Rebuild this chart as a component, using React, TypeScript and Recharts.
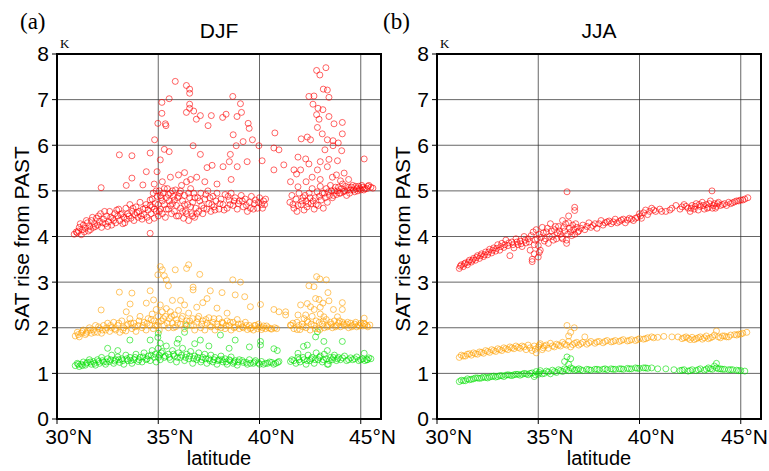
import React from 'react'
import {
  ScatterChart,
  Scatter,
  XAxis,
  YAxis,
  CartesianGrid,
} from 'recharts'

type P = [number, number]

const latTicks = [30, 35, 40, 45]
const satTicks = [0, 1, 2, 3, 4, 5, 6, 7, 8]

// DJF, red
const djfRed: P[] = [
  [30.85,4.05],[30.95,4.1],[31.05,4.12],[31.1,4.2],[31.2,4.04],[31.25,4.15],[31.3,4.25],[31.4,4.18],[31.5,4.3],[31.55,4.12],
  [31.6,4.22],[31.7,4.35],[31.8,4.2],[31.85,4.28],[31.95,4.4],[32.0,4.25],[32.1,4.33],[32.15,4.5],[32.2,4.2],[32.3,4.38],
  [32.4,4.28],[32.45,4.45],[32.55,4.32],[32.6,4.55],[32.7,4.25],[32.75,4.4],[32.85,4.5],[32.9,4.3],[33.0,4.45],[33.05,4.6],
  [33.1,4.35],[33.2,4.5],[33.25,4.28],[33.3,4.42],[33.4,4.62],[33.45,4.38],[33.5,4.5],[33.6,4.7],[33.65,4.4],[33.7,4.55],
  [33.8,4.35],[33.85,4.48],[33.9,4.65],[34.0,4.42],[34.05,4.55],[34.1,4.75],[34.2,4.38],[34.25,4.6],[34.3,4.48],[34.4,4.7],
  [34.45,4.42],[34.5,4.58],[34.6,4.8],[34.65,4.5],[34.7,4.65],[34.75,4.95],[34.8,4.4],[34.85,4.72],[34.9,4.55],[34.95,4.88],
  [35.0,4.45],[35.0,4.7],[35.05,5.0],[35.1,4.6],[35.15,4.85],[35.2,4.5],[35.25,4.95],[35.3,4.7],[35.35,4.42],[35.4,4.85],
  [35.45,5.05],[35.5,4.6],[35.55,4.78],[35.6,4.95],[35.65,4.5],[35.7,4.72],[35.75,4.88],[35.8,4.55],[35.85,5.02],[35.9,4.68],
  [35.95,4.85],[36.0,4.45],[36.05,4.95],[36.1,4.62],[36.15,5.12],[36.2,4.78],[36.25,4.4],[36.3,4.9],[36.35,4.55],[36.4,5.2],
  [36.45,4.7],[36.5,4.35],[36.55,4.85],[36.6,5.05],[36.65,4.5],[36.7,4.75],[36.75,4.95],[36.8,4.42],[36.85,4.62],[36.95,4.85],
  [37.0,4.55],[37.1,4.95],[37.15,4.68],[37.2,4.5],[37.3,4.82],[37.4,4.6],[37.45,5.0],[37.5,4.72],[37.6,4.55],[37.7,4.88],
  [37.75,4.65],[37.85,4.78],[37.9,4.95],[38.0,4.6],[38.1,4.82],[38.2,4.7],[38.3,4.92],[38.4,4.62],[38.5,4.8],[38.6,4.95],
  [38.7,4.68],[38.8,4.85],[38.9,4.6],[39.0,4.78],[39.1,4.9],[39.2,4.65],[39.3,4.82],[39.4,4.55],[39.5,4.75],[39.6,4.88],
  [39.7,4.6],[39.8,4.8],[39.9,4.62],[40.0,4.85],[40.1,4.7],[40.2,4.78],[40.3,4.82],[41.5,4.75],[41.6,4.9],[41.7,4.62],
  [41.8,4.82],[41.85,4.55],[41.95,4.95],[42.05,4.7],[42.15,4.85],[42.2,4.58],[42.3,4.78],[42.35,4.65],[42.45,4.95],[42.55,4.72],
  [42.6,5.05],[42.7,4.6],[42.75,4.85],[42.85,4.98],[42.9,4.68],[43.0,5.1],[43.05,4.8],[43.15,4.62],[43.2,4.95],[43.3,5.05],
  [43.35,4.75],[43.45,4.9],[43.5,5.12],[43.6,4.85],[43.7,5.0],[43.8,4.92],[43.9,5.08],[44.0,4.95],[44.1,5.15],[44.2,5.0],
  [44.3,4.9],[44.4,5.08],[44.5,5.02],[44.6,5.12],[44.7,4.98],[44.8,5.05],[44.9,5.1],[45.0,5.02],[45.1,5.08],[45.2,5.05],
  [45.35,5.1],[45.5,5.08],
  [31.0,4.08],[31.15,4.28],[31.35,4.1],[31.45,4.35],[31.65,4.15],[31.75,4.42],[31.9,4.22],[32.05,4.45],[32.25,4.3],[32.35,4.55],
  [32.5,4.22],[32.65,4.42],[32.8,4.35],[32.95,4.58],[33.15,4.48],[33.35,4.3],[33.55,4.45],[33.75,4.62],[33.95,4.52],[34.15,4.45],
  [34.35,4.62],[34.55,4.35],[34.6,4.68],[34.7,4.82],[34.8,4.6],[34.9,5.0],[35.05,4.55],[35.1,4.9],[35.2,4.78],[35.3,5.05],
  [35.4,4.6],[35.5,4.92],[35.6,4.68],[35.7,5.0],[35.8,4.8],[35.9,4.45],[36.0,4.88],[36.1,5.0],[36.2,4.55],[36.3,4.7],
  [36.4,4.5],[36.5,4.95],[36.6,4.65],[36.7,4.45],[36.8,4.85],[36.9,4.5],[37.05,4.78],[37.25,4.62],[37.35,4.92],[37.55,4.85],
  [37.65,4.7],[37.8,4.58],[38.05,4.72],[38.25,4.58],[38.45,4.88],[38.55,4.7],[38.75,4.78],[38.95,4.72],[39.15,4.78],[39.35,4.68],
  [39.55,4.62],[39.75,4.72],[39.95,4.75],[40.15,4.62],[40.25,4.7],[41.65,4.7],[41.9,4.68],[42.1,4.78],[42.25,4.9],[42.4,4.72],
  [42.5,4.85],[42.65,4.78],[42.8,4.7],[42.95,4.88],[43.1,4.95],[43.25,4.85],[43.4,4.98],[43.55,5.0],[43.65,4.9],[43.75,5.08],
  [43.85,5.0],[43.95,4.95],[44.05,5.05],[44.15,4.98],[44.25,5.1],[44.35,5.02],[44.45,4.95],[44.55,5.08],[44.65,5.02],[44.75,5.1],
  [44.85,5.0],[44.95,5.05],[45.05,5.12],[45.15,5.02],[45.3,5.05],[45.4,5.12],[45.6,5.06],
  // scattered above the band
  [35.84,7.4],[36.39,7.31],[36.55,7.23],[36.55,7.14],[35.54,7.02],[35.18,6.94],[38.68,7.07],[39.06,6.91],[36.55,6.9],[36.55,6.81],
  [36.39,6.72],[36.75,6.75],[37.08,6.65],[36.88,6.57],[37.62,6.65],[38.18,6.61],[38.35,6.68],[38.89,6.63],[39.11,6.72],[37.46,6.43],
  [39.44,6.48],[39.49,6.37],[35.18,6.7],[34.98,6.48],[35.35,6.47],[35.38,6.43],[34.82,6.12],[38.7,6.23],[39.19,6.08],[39.65,6.12],
  [38.85,5.99],[39.97,5.99],[40.76,6.27],[40.71,5.94],[40.96,5.9],[36.72,5.99],[35.3,5.91],[35.54,5.86],[34.6,5.83],[33.08,5.79],
  [33.7,5.77],[37.08,5.8],[38.56,5.8],[38.51,5.64],[39.39,5.64],[40.13,5.66],[38.2,5.53],[38.9,5.53],[37.41,5.51],[37.66,5.56],
  [40.71,5.46],[41.2,5.57],[35.1,5.68],[34.94,5.42],[34.41,5.42],[33.7,5.28],[33.42,5.12],[32.18,5.07],[34.24,5.13],[34.6,4.07],
  [35.6,5.3],[36.0,5.35],[36.3,5.4],[36.6,5.25],[37.3,5.2],[37.9,5.15],[38.6,5.25],[35.2,5.2],[34.8,5.15],[36.9,5.3],
  [42.82,7.64],[43.28,7.7],[42.98,7.54],[43.15,7.23],[43.35,7.21],[42.44,7.07],[42.69,7.08],[43.43,7.05],[42.64,6.9],[42.89,6.81],
  [43.13,6.78],[42.82,6.67],[42.94,6.57],[43.43,6.63],[43.68,6.47],[44.09,6.5],[42.86,6.39],[43.1,6.25],[44.09,6.25],[42.06,6.14],
  [42.36,6.18],[42.52,6.12],[43.35,6.12],[43.63,6.1],[43.89,6.05],[43.63,5.99],[43.23,5.9],[44.06,5.88],[41.9,5.74],[42.28,5.7],
  [42.44,5.59],[43.0,5.64],[43.43,5.69],[43.85,5.66],[45.17,5.7],[41.7,5.46],[42.03,5.46],[41.83,5.37],[42.86,5.46],[43.35,5.53],
  [44.18,5.39],[41.53,5.2],[41.9,5.09],[42.6,5.3],[43.0,5.25],[43.6,5.3],[44.0,5.22],[42.3,5.2],[43.8,5.35],[44.4,5.25],
]

// DJF, orange
const djfOrange: P[] = [
  [30.9,1.82],[31.0,1.9],[31.1,1.8],[31.2,1.88],[31.3,1.95],[31.4,1.85],[31.5,1.92],[31.6,2.0],[31.7,1.88],[31.8,1.95],
  [31.9,2.05],[32.0,1.9],[32.1,1.98],[32.2,1.88],[32.3,2.05],[32.4,1.95],[32.5,2.1],[32.6,1.92],[32.7,2.0],[32.8,2.12],
  [32.9,1.95],[33.0,2.05],[33.1,1.9],[33.2,2.15],[33.3,2.0],[33.4,1.93],[33.5,2.08],[33.6,2.2],[33.7,1.98],[33.8,2.1],
  [33.9,1.92],[34.0,2.05],[34.1,2.25],[34.2,2.0],[34.3,2.12],[34.4,1.95],[34.5,2.2],[34.6,2.05],[34.7,2.3],[34.75,1.98],
  [34.8,2.15],[34.9,2.4],[34.95,2.05],[35.0,2.25],[35.05,1.95],[35.1,2.5],[35.15,2.15],[35.2,2.35],[35.3,2.05],[35.35,2.25],
  [35.4,2.42],[35.5,2.0],[35.55,2.2],[35.6,2.35],[35.7,2.1],[35.8,2.28],[35.85,2.02],[35.9,2.18],[36.0,2.38],[36.1,2.08],
  [36.2,2.25],[36.3,1.98],[36.4,2.15],[36.5,2.32],[36.6,2.05],[36.7,2.2],[36.8,1.95],[36.9,2.12],[37.0,2.25],[37.1,2.0],
  [37.2,2.15],[37.3,1.95],[37.4,2.1],[37.5,2.22],[37.6,2.02],[37.7,2.12],[37.8,1.95],[37.9,2.08],[38.0,2.2],[38.1,2.0],
  [38.2,2.1],[38.3,1.98],[38.4,2.15],[38.5,2.05],[38.6,1.95],[38.7,2.12],[38.8,2.02],[38.9,2.18],[39.0,1.98],[39.1,2.08],
  [39.2,2.0],[39.3,2.12],[39.4,1.96],[39.5,2.05],[39.6,2.0],[39.7,1.95],[39.8,2.05],[39.9,1.98],[40.0,2.02],[40.1,1.96],
  [40.2,2.04],[40.3,1.98],[40.45,2.0],[40.6,1.97],[40.75,2.0],[41.55,2.05],[41.7,1.98],[41.85,2.12],[42.0,1.96],[42.1,2.08],
  [42.2,2.2],[42.3,2.0],[42.4,2.12],[42.5,1.95],[42.6,2.25],[42.7,2.05],[42.8,2.15],[42.9,1.98],[43.0,2.3],[43.1,2.08],
  [43.2,2.0],[43.3,2.18],[43.4,2.05],[43.5,2.12],[43.6,2.0],[43.7,2.15],[43.8,2.05],[43.9,2.1],[44.0,2.02],[44.1,2.12],
  [44.2,2.05],[44.3,2.08],[44.4,2.0],[44.5,2.1],[44.6,2.05],[44.7,2.08],[44.8,2.02],[44.9,2.06],[45.0,2.1],[45.1,2.04],
  [45.2,2.08],[45.3,2.05],[45.45,2.06],
  [31.05,1.85],[31.25,1.92],[31.45,1.88],[31.65,1.95],[31.85,1.9],[32.05,2.02],[32.25,1.95],[32.45,2.0],[32.65,2.05],[32.85,1.98],
  [33.05,2.1],[33.25,1.95],[33.45,2.05],[33.65,2.1],[33.85,2.02],[34.05,2.15],[34.25,2.05],[34.45,2.1],[34.65,2.18],[34.85,2.05],
  [35.0,2.12],[35.25,2.2],[35.45,2.1],[35.65,2.25],[35.75,2.0],[35.95,2.1],[36.15,2.2],[36.35,2.08],[36.55,2.15],[36.75,2.05],
  [36.95,2.2],[37.15,2.08],[37.35,2.18],[37.55,2.05],[37.75,2.2],[37.95,2.02],[38.15,2.12],[38.35,2.05],[38.55,2.12],[38.75,2.0],
  [38.95,2.08],[39.15,2.02],[39.35,2.05],[39.55,1.98],[39.75,2.05],[39.95,2.08],[40.15,2.0],[40.35,2.04],[40.55,1.98],[40.85,1.98],
  [41.65,2.1],[41.95,2.05],[42.15,2.02],[42.35,2.15],[42.55,2.08],[42.75,1.98],[42.95,2.12],[43.15,2.15],[43.35,2.02],[43.55,2.08],
  [43.75,2.02],[43.95,2.15],[44.15,2.08],[44.35,2.12],[44.55,2.02],[44.75,2.12],[44.95,2.04],[45.15,2.1],[45.35,2.02],
  [35.1,3.34],[35.2,3.27],[36.5,3.38],[36.4,3.3],[35.84,3.27],[37.05,3.17],[34.98,3.16],[35.3,3.14],[35.4,3.05],[35.5,2.92],
  [36.72,2.89],[36.72,2.83],[37.57,2.81],[38.68,3.05],[39.06,3.0],[34.6,2.81],[33.08,2.78],[33.7,2.76],[38.15,2.77],[38.8,2.72],
  [39.27,2.68],[34.77,2.61],[34.41,2.54],[33.61,2.52],[32.18,2.39],[33.42,2.35],[40.05,2.51],[39.55,2.46],[40.71,2.4],[40.96,2.35],
  [41.29,2.35],[41.29,2.28],[37.41,2.64],[37.9,2.43],[38.4,2.32],[36.1,2.6],[36.3,2.5],[35.7,2.6],[36.9,2.45],[37.2,2.55],
  [42.82,3.12],[42.98,3.07],[43.3,3.05],[42.44,2.92],[42.69,2.9],[43.38,2.77],[42.77,2.64],[42.94,2.62],[43.13,2.54],[43.43,2.59],
  [44.09,2.55],[43.65,2.4],[44.09,2.4],[42.03,2.5],[42.36,2.53],[42.52,2.46],[41.9,2.28],[42.28,2.28],[43.18,2.24],[43.85,2.24],
  [45.17,2.21],[41.53,2.06],[41.86,1.96],[42.98,1.96],[42.7,2.4],[43.0,2.45],
]

// DJF, green
const djfGreen: P[] = [
  [30.9,1.17],[31.0,1.22],[31.1,1.15],[31.2,1.2],[31.3,1.25],[31.4,1.18],[31.5,1.24],[31.6,1.3],[31.7,1.2],[31.8,1.26],
  [31.9,1.18],[32.0,1.3],[32.1,1.22],[32.2,1.35],[32.3,1.25],[32.4,1.2],[32.5,1.32],[32.6,1.26],[32.7,1.4],[32.8,1.22],
  [32.9,1.3],[33.0,1.36],[33.1,1.24],[33.2,1.32],[33.3,1.2],[33.4,1.4],[33.5,1.28],[33.6,1.35],[33.7,1.22],[33.8,1.3],
  [33.9,1.42],[34.0,1.26],[34.1,1.35],[34.2,1.25],[34.3,1.45],[34.4,1.3],[34.5,1.38],[34.6,1.28],[34.7,1.5],[34.8,1.35],
  [34.9,1.25],[35.0,1.55],[35.05,1.4],[35.1,1.3],[35.2,1.48],[35.3,1.35],[35.4,1.6],[35.5,1.42],[35.6,1.3],[35.7,1.5],
  [35.8,1.38],[35.9,1.25],[36.0,1.45],[36.1,1.35],[36.2,1.55],[36.3,1.28],[36.4,1.42],[36.5,1.32],[36.6,1.48],[36.7,1.22],
  [36.8,1.38],[36.9,1.3],[37.0,1.45],[37.1,1.25],[37.2,1.35],[37.3,1.42],[37.4,1.22],[37.5,1.32],[37.6,1.4],[37.7,1.25],
  [37.8,1.35],[37.9,1.2],[38.0,1.3],[38.1,1.38],[38.2,1.25],[38.3,1.32],[38.4,1.2],[38.5,1.3],[38.6,1.36],[38.7,1.22],
  [38.8,1.28],[38.9,1.18],[39.0,1.3],[39.2,1.24],[39.4,1.2],[39.5,1.3],[39.7,1.22],[39.8,1.28],[40.0,1.2],[40.1,1.26],
  [40.3,1.22],[40.5,1.25],[40.7,1.2],[40.9,1.24],[41.6,1.3],[41.8,1.22],[41.9,1.35],[42.0,1.25],[42.2,1.3],[42.3,1.2],
  [42.4,1.4],[42.5,1.28],[42.6,1.35],[42.7,1.22],[42.8,1.45],[42.9,1.3],[43.0,1.38],[43.1,1.25],[43.2,1.42],[43.3,1.32],
  [43.4,1.2],[43.5,1.35],[43.6,1.3],[43.7,1.4],[43.8,1.28],[43.9,1.35],[44.0,1.3],[44.2,1.38],[44.3,1.28],[44.5,1.34],
  [44.6,1.3],[44.8,1.36],[44.9,1.28],[45.1,1.32],[45.3,1.3],[45.5,1.32],
  [31.05,1.2],[31.25,1.17],[31.45,1.22],[31.65,1.25],[31.85,1.22],[32.05,1.26],[32.25,1.28],[32.45,1.25],[32.65,1.3],[32.85,1.27],
  [33.05,1.3],[33.25,1.28],[33.45,1.32],[33.65,1.28],[33.85,1.35],[34.05,1.3],[34.25,1.36],[34.45,1.32],[34.65,1.4],[34.85,1.42],
  [35.0,1.35],[35.15,1.45],[35.35,1.38],[35.55,1.35],[35.75,1.42],[35.95,1.35],[36.15,1.4],[36.35,1.35],[36.55,1.38],[36.75,1.32],
  [36.95,1.35],[37.15,1.3],[37.35,1.32],[37.55,1.28],[37.75,1.3],[37.95,1.28],[38.15,1.3],[38.35,1.25],[38.55,1.28],[38.75,1.25],
  [38.95,1.25],[39.15,1.28],[39.35,1.24],[39.55,1.22],[39.75,1.25],[39.95,1.23],[40.2,1.2],[40.4,1.22],[40.6,1.24],[40.8,1.22],
  [41.7,1.28],[41.95,1.3],[42.15,1.35],[42.35,1.28],[42.55,1.32],[42.75,1.3],[42.95,1.35],[43.15,1.3],[43.45,1.28],[43.65,1.35],
  [43.85,1.32],[44.1,1.34],[44.4,1.3],[44.7,1.32],[45.0,1.3],[45.2,1.28],[45.4,1.34],
  [33.6,1.73],[34.6,1.73],[34.98,1.79],[35.0,1.88],[35.1,1.66],[35.93,1.66],[36.4,2.05],[36.3,1.9],[37.08,1.73],[38.07,1.84],
  [38.8,1.73],[39.5,1.58],[40.05,1.62],[40.05,1.7],[40.71,1.54],[40.88,1.5],[40.96,1.26],[41.53,1.26],[41.9,1.44],[42.17,1.59],
  [42.36,1.62],[42.77,1.8],[42.86,1.91],[43.18,1.7],[44.09,1.7],[43.35,1.5],[45.17,1.44],[45.33,1.3],[43.35,1.2],[32.5,1.55],
  [33.0,1.5],[36.0,1.75],[36.8,1.65],[37.5,1.6],[38.5,1.55],
]

// JJA, red
const jjaRed: P[] = [
  [31.1,3.3],[31.2,3.38],[31.3,3.34],[31.4,3.42],[31.5,3.38],[31.6,3.48],[31.7,3.44],[31.8,3.52],[31.9,3.48],[32.0,3.58],
  [32.1,3.52],[32.2,3.62],[32.3,3.56],[32.4,3.66],[32.5,3.6],[32.6,3.72],[32.7,3.64],[32.8,3.75],[32.9,3.68],[33.0,3.82],
  [33.1,3.7],[33.2,3.85],[33.3,3.76],[33.4,3.92],[33.5,3.8],[33.6,3.58],[33.7,3.88],[33.8,3.75],[33.9,3.95],[34.0,3.82],
  [34.1,3.9],[34.2,3.78],[34.3,4.0],[34.4,3.86],[34.5,3.95],[34.6,3.7],[34.7,3.5],[34.75,4.1],[34.8,3.62],[34.85,3.92],
  [34.9,4.15],[35.0,3.8],[35.05,4.05],[35.1,3.7],[35.2,4.2],[35.3,3.9],[35.4,4.1],[35.5,3.85],[35.6,4.28],[35.7,4.0],
  [35.8,4.15],[35.9,3.95],[36.0,4.22],[36.1,4.05],[36.2,4.35],[36.3,4.12],[36.4,3.92],[36.5,4.3],[36.6,4.1],[36.7,4.25],
  [36.8,4.05],[36.9,4.2],[37.0,4.12],[37.2,4.25],[37.3,4.15],[37.5,4.3],[37.6,4.2],[37.8,4.28],[37.9,4.18],[38.1,4.35],
  [38.2,4.25],[38.4,4.32],[38.6,4.28],[38.8,4.38],[38.9,4.3],[39.1,4.36],[39.3,4.3],[39.5,4.4],[39.7,4.35],[39.9,4.42],
  [40.0,4.5],[40.1,4.4],[40.3,4.58],[40.4,4.48],[40.6,4.62],[40.8,4.55],[41.0,4.6],[41.3,4.55],[41.6,4.62],[41.8,4.68],
  [42.0,4.6],[42.2,4.7],[42.4,4.62],[42.5,4.55],[42.6,4.68],[42.7,4.6],[42.8,4.72],[42.9,4.58],[43.0,4.66],[43.1,4.75],
  [43.2,4.6],[43.3,4.7],[43.4,4.64],[43.5,4.78],[43.58,5.0],[43.6,4.62],[43.7,4.72],[43.8,4.66],[43.9,4.75],[44.0,4.68],
  [44.2,4.72],[44.4,4.75],[44.6,4.74],[44.8,4.78],[45.0,4.8],[45.2,4.82],[45.35,4.85],
  [31.15,3.35],[31.35,3.4],[31.55,3.44],[31.75,3.48],[31.95,3.54],[32.15,3.58],[32.35,3.6],[32.55,3.66],[32.75,3.7],[32.95,3.74],
  [33.15,3.78],[33.35,3.82],[33.55,3.86],[33.75,3.82],[33.95,3.88],[34.15,3.84],[34.35,3.92],[34.55,3.88],[34.65,4.02],[34.8,3.82],
  [34.95,3.95],[35.05,3.65],[35.15,3.98],[35.25,4.08],[35.35,3.95],[35.45,4.18],[35.55,4.0],[35.65,4.12],[35.75,3.92],[35.85,4.22],
  [35.95,4.08],[36.05,4.12],[36.15,3.98],[36.25,4.2],[36.35,4.28],[36.45,4.05],[36.55,4.18],[36.65,4.02],[36.75,4.15],[36.85,4.28],
  [36.95,4.1],[37.1,4.18],[37.4,4.22],[37.7,4.24],[38.0,4.28],[38.3,4.3],[38.5,4.34],[38.7,4.32],[39.0,4.33],[39.2,4.38],
  [39.4,4.36],[39.6,4.38],[39.8,4.4],[40.05,4.45],[40.2,4.52],[40.5,4.55],[40.7,4.58],[41.1,4.55],[41.5,4.58],[42.1,4.65],
  [42.3,4.66],[42.55,4.62],[42.75,4.66],[42.95,4.7],[43.15,4.68],[43.35,4.62],[43.45,4.72],[43.65,4.68],[43.75,4.62],[43.85,4.72],
  [44.1,4.7],[44.3,4.68],[44.5,4.72],[44.7,4.76],[44.9,4.78],[45.1,4.8],
  [36.42,4.98],[36.8,4.64],[36.8,4.57],[36.5,4.45],[36.4,3.85],[34.7,3.45],[35.0,3.55],[36.2,3.95],
]

// JJA, orange
const jjaOrange: P[] = [
  [31.1,1.35],[31.2,1.4],[31.4,1.38],[31.5,1.42],[31.7,1.4],[31.8,1.45],[32.0,1.42],[32.1,1.47],[32.3,1.44],[32.4,1.5],
  [32.6,1.46],[32.7,1.52],[32.9,1.48],[33.0,1.54],[33.2,1.5],[33.3,1.56],[33.5,1.52],[33.6,1.58],[33.8,1.54],[33.9,1.6],
  [34.1,1.55],[34.2,1.6],[34.4,1.52],[34.5,1.62],[34.7,1.5],[34.8,1.6],[34.9,1.45],[35.0,1.58],[35.1,1.65],[35.2,1.52],
  [35.3,1.6],[35.5,1.55],[35.6,1.66],[35.8,1.58],[35.9,1.64],[36.1,1.6],[36.2,1.68],[36.4,1.62],[36.5,1.7],[36.6,1.58],
  [36.8,1.66],[37.0,1.62],[37.2,1.68],[37.4,1.64],[37.6,1.7],[37.8,1.66],[38.0,1.7],[38.2,1.67],[38.4,1.72],[38.6,1.69],
  [38.8,1.72],[39.0,1.7],[39.2,1.74],[39.4,1.71],[39.6,1.74],[39.8,1.72],[40.0,1.76],[40.2,1.75],[40.4,1.78],[40.6,1.8],
  [40.9,1.79],[41.2,1.81],[41.6,1.8],[41.9,1.8],[42.1,1.76],[42.3,1.8],[42.5,1.74],[42.6,1.79],[42.8,1.76],[43.0,1.8],
  [43.1,1.75],[43.3,1.82],[43.5,1.78],[43.7,1.84],[43.8,1.93],[43.9,1.8],[44.1,1.82],[44.3,1.8],[44.5,1.84],[44.7,1.85],
  [44.9,1.86],[45.1,1.88],[45.3,1.9],
  [31.3,1.38],[31.6,1.43],[31.9,1.43],[32.2,1.46],[32.5,1.48],[32.8,1.5],[33.1,1.52],[33.4,1.54],[33.7,1.56],[34.0,1.57],
  [34.3,1.58],[34.6,1.56],[34.85,1.53],[35.05,1.62],[35.25,1.56],[35.4,1.62],[35.7,1.6],[36.0,1.62],[36.3,1.64],[36.7,1.63],
  [36.9,1.68],[37.1,1.65],[37.5,1.67],[37.9,1.69],[38.3,1.7],[38.7,1.7],[39.1,1.72],[39.5,1.72],[39.9,1.74],[40.3,1.76],
  [40.7,1.78],[42.2,1.78],[42.4,1.77],[42.7,1.74],[42.9,1.78],[43.2,1.78],[43.4,1.76],[43.6,1.8],[44.0,1.78],[44.2,1.82],
  [44.4,1.8],[44.8,1.84],[45.0,1.86],
  [36.42,2.05],[36.78,2.0],[36.6,1.9],[36.5,1.82],[37.3,1.8],
]

// JJA, green
const jjaGreen: P[] = [
  [31.1,0.82],[31.2,0.85],[31.4,0.84],[31.5,0.88],[31.7,0.87],[31.9,0.9],[32.1,0.89],[32.3,0.92],[32.5,0.9],[32.7,0.93],
  [32.9,0.92],[33.1,0.95],[33.3,0.93],[33.5,0.97],[33.7,0.95],[33.9,0.98],[34.1,0.96],[34.3,1.0],[34.5,0.97],[34.7,1.01],
  [34.8,0.93],[34.9,1.04],[35.0,0.98],[35.1,1.06],[35.3,1.0],[35.4,1.05],[35.6,0.99],[35.7,1.07],[35.9,1.02],[36.0,1.08],
  [36.2,1.04],[36.3,1.1],[36.5,1.06],[36.6,1.12],[36.8,1.07],[37.0,1.1],[37.2,1.06],[37.4,1.09],[37.6,1.07],[37.8,1.09],
  [38.0,1.08],[38.2,1.09],[38.4,1.08],[38.6,1.1],[38.8,1.09],[39.0,1.1],[39.2,1.09],[39.4,1.11],[39.6,1.1],[39.8,1.12],
  [40.0,1.11],[40.2,1.12],[40.4,1.11],[40.6,1.12],[40.9,1.1],[41.3,1.1],[41.7,1.08],[42.0,1.06],[42.2,1.08],[42.4,1.05],
  [42.6,1.08],[42.8,1.06],[43.0,1.1],[43.2,1.07],[43.4,1.12],[43.6,1.09],[43.8,1.12],[44.0,1.1],[44.2,1.09],[44.4,1.08],
  [44.6,1.08],[44.8,1.07],[45.0,1.06],[45.2,1.05],
  [31.3,0.84],[31.6,0.86],[31.8,0.88],[32.0,0.9],[32.2,0.9],[32.4,0.91],[32.6,0.92],[32.8,0.94],[33.0,0.93],[33.2,0.95],
  [33.4,0.96],[33.6,0.96],[33.8,0.97],[34.0,0.98],[34.2,0.98],[34.4,0.99],[34.6,1.0],[34.85,0.97],[35.05,1.02],[35.2,0.99],
  [35.5,1.03],[35.8,1.04],[36.1,1.06],[36.4,1.08],[36.7,1.1],[36.9,1.08],[37.1,1.08],[37.5,1.08],[37.9,1.09],[38.3,1.1],
  [38.7,1.09],[39.1,1.1],[39.5,1.1],[39.9,1.11],[40.3,1.12],[42.1,1.07],[42.5,1.06],[42.9,1.08],[43.3,1.09],[43.5,1.1],
  [43.9,1.1],[44.1,1.09],[44.5,1.08],[44.9,1.06],
  [36.42,1.36],[36.6,1.32],[36.3,1.26],[36.5,1.2],[43.8,1.22],[43.7,1.16],
]

const RED = '#ff0000'
const ORANGE = '#ffa000'
const GREEN = '#00e000'

const toPts = (arr: P[]) => arr.map(([x, y]) => ({ x, y }))

const ring = (color: string) => (p: any) => (
  <circle cx={p.cx} cy={p.cy} r={3} fill="none" stroke={color} strokeOpacity={0.6} strokeWidth={1} />
)

const Blank = () => <g />

const sans = "'Liberation Sans', Arial, sans-serif"
const LABEL_W = 47

// digits centred on the tick, degree sign and N trailing; kept inside maxX
const LatTick = (p: any) => {
  const x = Math.min(p.x - 11.7, p.maxX - LABEL_W)
  return (
    <text x={x} y={p.y} dy={16} fontSize={21} fontFamily={sans} fill="#000" textAnchor="start">
      {`${p.payload.value}°N`}
    </text>
  )
}

const M = { top: 54, right: 9, bottom: 22, left: 17 }
const CHART_W = 390
const CHART_H = 471
const Y_W = 40
const X_H = 30
const PLOT_W = CHART_W - M.left - M.right - Y_W
const PLOT_H = CHART_H - M.top - M.bottom - X_H

function Panel({ red, orange, green, maxX }: { red: P[]; orange: P[]; green: P[]; maxX: number }) {
  return (
    <div style={{ position: 'relative', width: CHART_W, height: CHART_H }}>
      <ScatterChart width={CHART_W} height={CHART_H} margin={M}>
        <CartesianGrid stroke="#333" strokeOpacity={0.75} />
        <Scatter data={toPts(green)} shape={ring(GREEN)} isAnimationActive={false} />
        <Scatter data={toPts(orange)} shape={ring(ORANGE)} isAnimationActive={false} />
        <Scatter data={toPts(red)} shape={ring(RED)} isAnimationActive={false} />
        <XAxis
          type="number"
          dataKey="x"
          domain={[30, 46]}
          ticks={latTicks}
          allowDataOverflow
          height={X_H}
          tickSize={5}
          tickMargin={4}
          axisLine={false}
          tickLine={{ stroke: '#000' }}
          tick={<LatTick maxX={maxX} />}
        />
        <XAxis
          xAxisId="top"
          orientation="top"
          type="number"
          domain={[30, 46]}
          ticks={latTicks}
          height={0}
          tickSize={5}
          axisLine={false}
          tickLine={{ stroke: '#333' }}
          tick={<Blank />}
        />
        <YAxis
          type="number"
          dataKey="y"
          domain={[0, 8]}
          ticks={satTicks}
          allowDataOverflow
          width={Y_W}
          tickSize={5}
          tickMargin={3}
          axisLine={false}
          tickLine={{ stroke: '#000' }}
          tick={{ fontSize: 21, fill: '#000', fontFamily: sans }}
        />
        <YAxis
          yAxisId="right"
          orientation="right"
          type="number"
          domain={[0, 8]}
          ticks={satTicks}
          width={0}
          tickSize={5}
          axisLine={false}
          tickLine={{ stroke: '#333' }}
          tick={<Blank />}
        />
      </ScatterChart>
      <svg width={CHART_W} height={CHART_H} style={{ position: 'absolute', left: 0, top: 0, pointerEvents: 'none' }}>
        <rect x={M.left + Y_W} y={M.top} width={PLOT_W} height={PLOT_H} fill="none" stroke="#000" strokeWidth={2} />
      </svg>
    </div>
  )
}

export default function App() {
  const serif = "'Liberation Serif', 'DejaVu Serif', serif"
  return (
    <div style={{ position: 'absolute', left: 0, top: 0, width: 769, height: 471, background: '#fff' }}>
      <style>{'.recharts-surface { overflow: visible; }'}</style>
      <div style={{ position: 'absolute', left: 0, top: 0 }}>
        <Panel red={djfRed} orange={djfOrange} green={djfGreen} maxX={420} />
      </div>
      <div style={{ position: 'absolute', left: 380, top: 0 }}>
        <Panel red={jjaRed} orange={jjaOrange} green={jjaGreen} maxX={388} />
      </div>
      <svg width={769} height={471} style={{ position: 'absolute', left: 0, top: 0, pointerEvents: 'none' }}>
        <text x={20} y={29} fontSize={23} fontFamily={serif}>(a)</text>
        <text x={383} y={29} fontSize={23} fontFamily={serif}>(b)</text>
        <text x={60} y={48} fontSize={13} fontFamily={serif}>K</text>
        <text x={440} y={48} fontSize={13} fontFamily={serif}>K</text>
        <text x={219} y={38} fontSize={21} fontFamily={sans} textAnchor="middle">DJF</text>
        <text x={599} y={38} fontSize={21} fontFamily={sans} textAnchor="middle">JJA</text>
        <text x={219} y={465} fontSize={20} fontFamily={sans} textAnchor="middle">latitude</text>
        <text x={599} y={465} fontSize={20} fontFamily={sans} textAnchor="middle">latitude</text>
        <text x={29} y={239} fontSize={21} fontFamily={sans} textAnchor="middle" transform="rotate(-90 29 239)">SAT rise from PAST</text>
        <text x={410} y={239} fontSize={21} fontFamily={sans} textAnchor="middle" transform="rotate(-90 410 239)">SAT rise from PAST</text>
      </svg>
    </div>
  )
}
